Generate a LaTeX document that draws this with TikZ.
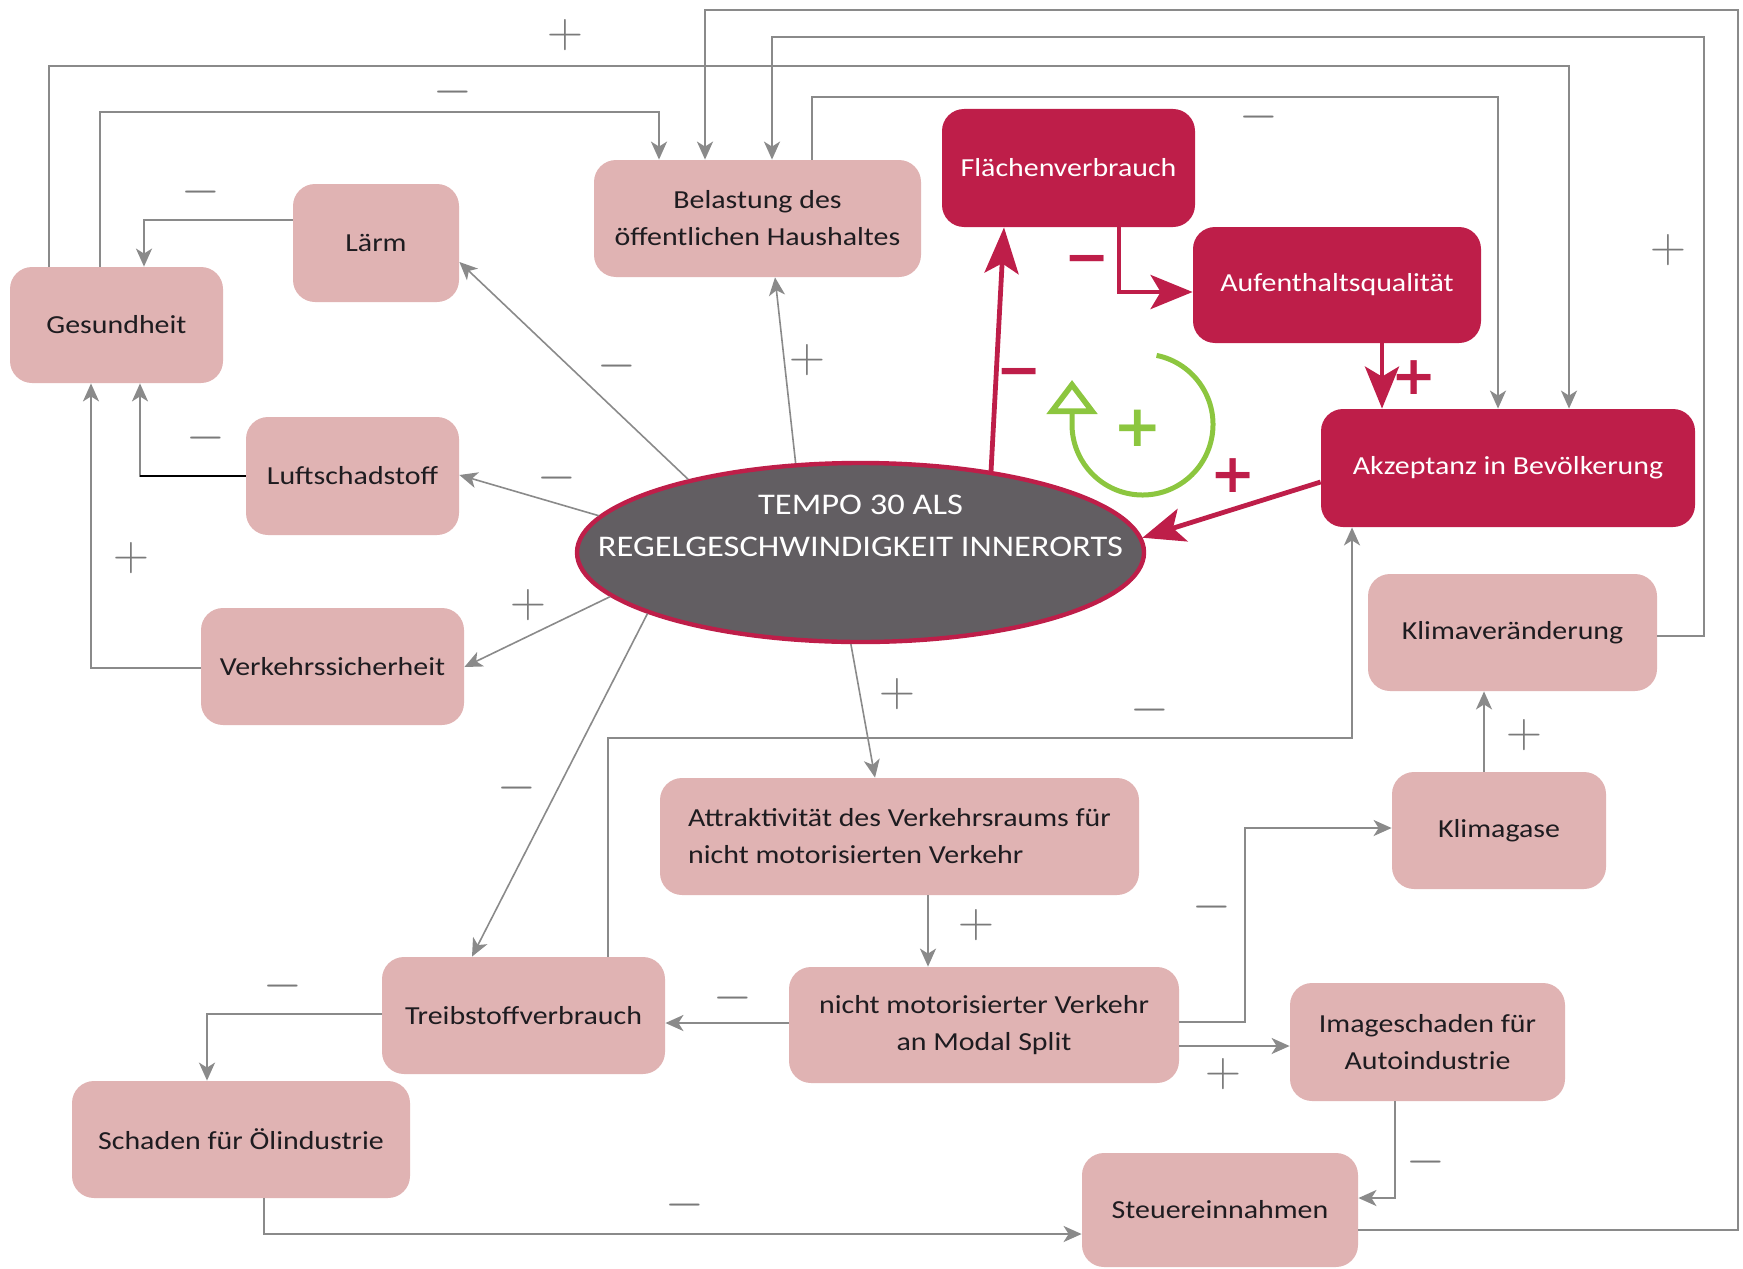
\documentclass[tikz,border=0pt]{standalone}
\usepackage[no-math]{fontspec}
\setmainfont{Carlito}[FakeStretch=1.15]
\newfontfamily\signfont{DejaVu Sans}
\usetikzlibrary{arrows.meta,shapes.geometric}
\definecolor{boxpink}{HTML}{E0B3B3}
\definecolor{crim}{HTML}{BE1E49}
\definecolor{ellgray}{HTML}{625E62}
\definecolor{linegray}{HTML}{8A8A8A}
\definecolor{signgray}{HTML}{7A7A7A}
\definecolor{txtdark}{HTML}{1E1C20}
\definecolor{grn}{HTML}{8CC63F}
\begin{document}
\begin{tikzpicture}[x=0.5pt,y=-0.5pt,
  box/.style={draw=none, fill=boxpink, rounded corners=11pt, text=txtdark,
    font=\fontsize{13}{18.5}\selectfont, align=center, inner sep=0pt},
  darkbox/.style={box, fill=crim, text=white},
  conn/.style={draw=linegray, line width=1.1pt, -{Stealth[length=9pt,width=8pt,inset=2.5pt]}},
  ray/.style={conn, line width=0.8pt},
  redarrow/.style={draw=crim, line width=2.4pt, -{Stealth[length=21pt,width=17pt,inset=5pt]}},
  sgn/.style={text=signgray, inner sep=0pt, font=\fontsize{24.88}{25}\selectfont},
  rsgn/.style={text=crim, inner sep=0pt, font=\signfont\bfseries\fontsize{27}{27}\selectfont},
  gsgn/.style={text=grn, inner sep=0pt, font=\signfont\bfseries\fontsize{29}{29}\selectfont}]
\path[use as bounding box] (0,0) rectangle (1743,1268);

% nodes
\node[box, minimum width=106.5pt, minimum height=58pt] (ges) at (116.5,325) {Gesundheit};
\node[box, minimum width=83pt, minimum height=59pt] (laerm) at (376,243) {Lärm};
\node[box, minimum width=163.5pt, minimum height=58.5pt] (bel) at (757.5,218.5) {Belastung des\\öffentlichen Haushaltes};
\node[darkbox, minimum width=126.5pt, minimum height=59pt] (flaech) at (1068.5,168) {Flächenverbrauch};
\node[darkbox, minimum width=144pt, minimum height=58pt] (aufent) at (1337,285) {Aufenthaltsqualität};
\node[darkbox, minimum width=187pt, minimum height=59pt] (akz) at (1508,468) {Akzeptanz in Bevölkerung};
\node[box, minimum width=106.5pt, minimum height=59pt] (luft) at (352.5,476) {Luftschadstoff};
\node[box, minimum width=131.5pt, minimum height=58.5pt] (vs) at (332.5,666.5) {Verkehrssicherheit};
\node[ellipse, draw=crim, line width=2.2pt, fill=ellgray, minimum width=283.5pt, minimum height=89.5pt, inner sep=0pt] (tempo) at (860.5,552.5) {};
\node[text=white, align=center, inner sep=0pt, font=\fontsize{15}{21}\selectfont] (tempotext) at (860.5,526) {TEMPO 30 ALS\\REGELGESCHWINDIGKEIT INNERORTS};
\node[box, minimum width=144.5pt, minimum height=58.5pt] (klimav) at (1512.5,632.5) {Klimaveränderung};
\node[box, minimum width=239.5pt, minimum height=58.5pt, align=left] (attr) at (899.5,836.5) {Attraktivität des Verkehrsraums für\\nicht motorisierten Verkehr};
\node[box, minimum width=107pt, minimum height=58.5pt] (klimag) at (1499,830.5) {Klimagase};
\node[box, minimum width=141.5pt, minimum height=58.5pt] (treib) at (523.5,1015.5) {Treibstoffverbrauch};
\node[box, minimum width=195pt, minimum height=58pt] (nmv) at (984,1025) {nicht motorisierter Verkehr\\an Modal Split};
\node[box, minimum width=137.5pt, minimum height=59pt] (image) at (1427.5,1042) {Imageschaden für\\Autoindustrie};
\node[box, minimum width=169pt, minimum height=58.5pt] (schaden) at (241,1139.5) {Schaden für Ölindustrie};
\node[box, minimum width=138pt, minimum height=57pt] (steuer) at (1220,1210) {Steuereinnahmen};

% routed gray connectors
\draw[conn] (49,0 |- ges.north) -- (49,66) -- (1569,66) -- (1569,0 |- akz.north);
\draw[conn] (100,0 |- ges.north) -- (100,112) -- (659,112) -- (659,0 |- bel.north);
\draw[conn] (steuer.east |- 0,1230) -- (1738,1230) -- (1738,10) -- (705,10) -- (705,0 |- bel.north);
\draw[conn] (klimav.east |- 0,636) -- (1704,636) -- (1704,37) -- (772,37) -- (772,0 |- bel.north);
\draw[conn] (812,0 |- bel.north) -- (812,97) -- (1498,97) -- (1498,0 |- akz.north);
\draw[conn] (laerm.west |- 0,220) -- (144,220) -- (144,0 |- ges.north);
\draw[conn] (luft.west |- 0,476) -- (140,476) -- (140,0 |- ges.south);
\draw[black, line width=1.1pt] (luft.west |- 0,476) -- (140,476);
\draw[conn] (vs.west |- 0,668) -- (91,668) -- (91,0 |- ges.south);
\draw[conn] (608,0 |- treib.north) -- (608,738) -- (1352,738) -- (1352,0 |- akz.south);
\draw[conn] (1484,0 |- klimag.north) -- (1484,0 |- klimav.south);
\draw[conn] (928,0 |- attr.south) -- (928,0 |- nmv.north);
\draw[conn] (nmv.west |- 0,1023) -- (treib.east |- 0,1023);
\draw[conn] (nmv.east |- 0,1022) -- (1245,1022) -- (1245,828) -- (klimag.west |- 0,828);
\draw[conn] (nmv.east |- 0,1046) -- (image.west |- 0,1046);
\draw[conn] (1395,0 |- image.south) -- (1395,1198) -- (steuer.east |- 0,1198);
\draw[conn] (treib.west |- 0,1014) -- (207,1014) -- (207,0 |- schaden.north);
\draw[conn] (264,0 |- schaden.south) -- (264,1234) -- (steuer.west |- 0,1234);

% rays from the ellipse
\draw[ray] (tempo.157.1) -- (laerm.east |- 0,262);
\draw[ray] (tempo.126.6) -- (775,0 |- bel.south);
\draw[ray] (tempo.172.5) -- (luft.east |- 0,475);
\draw[ray] (tempo.190.9) -- (vs.east |- 0,667);
\draw[ray] (tempo.196.8) -- (472,0 |- treib.north);
\draw[ray] (tempo.264.7) -- (875,0 |- attr.north);

% red connectors
\draw[redarrow, -{Stealth[length=23pt,width=17pt,inset=5pt]}] (tempo.32.7) -- (1004,0 |- flaech.south);
\draw[redarrow] (1119,0 |- flaech.south) -- (1119,292) -- (aufent.west |- 0,292);
\draw[redarrow] (1382,0 |- aufent.south) -- (1382,0 |- akz.north);
\draw[redarrow] (akz.west |- 0,482) -- (tempo.3);

% green loop
\draw[grn, line width=2.5pt, -{Triangle[open,length=17pt,width=25pt,line width=2.8pt]}]
  (1142.5,424.5) ++(-78.5:70.5) arc[start angle=-78.5, end angle=180, radius=70.5] -- (1072,380);

% gray signs
\node[sgn] (s1) at (565,35) {$+$};
\node[sgn] (s2) at (453,92) {$-$};
\node[sgn] (s3) at (1259,117) {$-$};
\node[sgn] (s4) at (201,192) {$-$};
\node[sgn] (s5) at (1668,250) {$+$};
\node[sgn] (s6) at (617,366) {$-$};
\node[sgn] (s7) at (807,360) {$+$};
\node[sgn] (s8) at (206,438) {$-$};
\node[sgn] (s9) at (557,478) {$-$};
\node[sgn] (s10) at (131,558) {$+$};
\node[sgn] (s11) at (528,605) {$+$};
\node[sgn] (s12) at (897,694) {$+$};
\node[sgn] (s13) at (1150,710) {$-$};
\node[sgn] (s14) at (1524,735) {$+$};
\node[sgn] (s15) at (517,788) {$-$};
\node[sgn] (s16) at (1212,907) {$-$};
\node[sgn] (s17) at (976,925) {$+$};
\node[sgn] (s18) at (283,986) {$-$};
\node[sgn] (s19) at (733,998) {$-$};
\node[sgn] (s20) at (1223,1074) {$+$};
\node[sgn] (s21) at (1426,1162) {$-$};
\node[sgn] (s22) at (685,1205) {$-$};

% red and green signs
\node[rsgn] (r1) at (1087,259) {\vphantom{+}−};
\node[rsgn] (r2) at (1019,372) {\vphantom{+}−};
\node[rsgn] (r3) at (1414,378) {+};
\node[rsgn] (r4) at (1233,476) {+};
\node[gsgn] (g1) at (1138,428) {+};
\end{tikzpicture}
\end{document}
